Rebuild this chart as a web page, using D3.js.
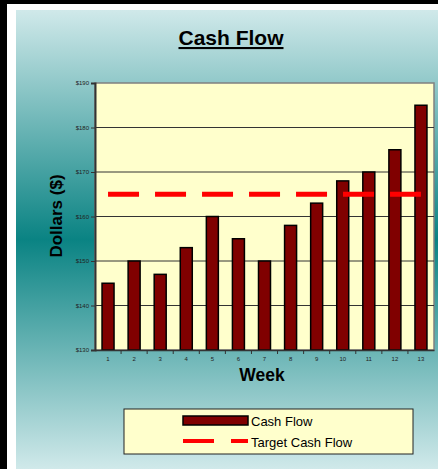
<!DOCTYPE html>
<html>
<head>
<meta charset="utf-8">
<script src="https://cdn.jsdelivr.net/npm/d3@7"></script>
<style>
  body { margin: 0; background: #000; }
  svg { display: block; font-family: Arial, "Liberation Sans", sans-serif; }
</style>
</head>
<body>
<div id="chart"></div>
<script>
const weeks = ["1","2","3","4","5","6","7","8","9","10","11","12","13"];
const cashFlow = [145, 150, 147, 153, 160, 155, 150, 158, 163, 168, 170, 175, 185];
const targetCashFlow = [165, 165, 165, 165, 165, 165, 165, 165, 165, 165, 165, 165, 165];
const yTicks = [130, 140, 150, 160, 170, 180, 190];

const width = 438, height = 469;
const margin = { top: 83, right: 4, bottom: 119, left: 95 };

const svg = d3.select("#chart")
  .append("svg")
  .attr("width", width)
  .attr("height", height);

// background: black frame, white strip, teal gradient panel
svg.append("rect").attr("width", width).attr("height", height).attr("fill", "#000");
svg.append("rect").attr("x", 7).attr("y", 4).attr("width", width - 7).attr("height", height - 4).attr("fill", "#fff");

const defs = svg.append("defs");
const grad = defs.append("linearGradient")
  .attr("id", "bg").attr("x1", 0).attr("y1", 0).attr("x2", 0).attr("y2", 1);
grad.append("stop").attr("offset", "0%").attr("stop-color", "#d0e9ea");
grad.append("stop").attr("offset", "50%").attr("stop-color", "#0a8383");
grad.append("stop").attr("offset", "100%").attr("stop-color", "#d0e9ea");

svg.append("rect").attr("x", 16).attr("y", 10).attr("width", width - 16).attr("height", height - 10)
  .attr("fill", "url(#bg)");

const x = d3.scaleBand()
  .domain(weeks)
  .range([margin.left, width - margin.right])
  .paddingInner(0.54)
  .paddingOuter(0.27);

const y = d3.scaleLinear()
  .domain([130, 190])
  .range([height - margin.bottom, margin.top]);

// plot area
svg.append("rect")
  .attr("x", margin.left).attr("y", margin.top)
  .attr("width", width - margin.left - margin.right)
  .attr("height", height - margin.top - margin.bottom)
  .attr("fill", "#ffffcc")
  .attr("stroke", "#808080")
  .attr("stroke-width", 1.5);

// gridlines
svg.append("g")
  .selectAll("line")
  .data(yTicks.slice(1, -1))
  .enter()
  .append("line")
  .attr("x1", margin.left).attr("x2", width - margin.right)
  .attr("y1", d => y(d)).attr("y2", d => y(d))
  .attr("stroke", "#333").attr("stroke-width", 1);

// bars
svg.append("g")
  .selectAll("rect")
  .data(cashFlow)
  .enter()
  .append("rect")
  .attr("x", (d, i) => x(weeks[i]))
  .attr("y", d => y(d))
  .attr("width", x.bandwidth())
  .attr("height", d => y(130) - y(d))
  .attr("fill", "#800000")
  .attr("stroke", "#000")
  .attr("stroke-width", 1.5);

// target line
const line = d3.line()
  .x((d, i) => x(weeks[i]) + x.bandwidth() / 2)
  .y(d => y(d));

svg.append("path")
  .datum(targetCashFlow)
  .attr("d", line)
  .attr("fill", "none")
  .attr("stroke", "#ff0000")
  .attr("stroke-width", 5)
  .attr("stroke-dasharray", "31,16");

// y axis
const yAxis = svg.append("g")
  .attr("transform", `translate(${margin.left},0)`)
  .call(d3.axisLeft(y).tickValues(yTicks).tickFormat(d => "$" + d).tickSize(4).tickPadding(2));
yAxis.select(".domain").attr("stroke", "#333").attr("stroke-width", 2);
yAxis.selectAll(".tick line").attr("stroke", "#333");
yAxis.selectAll("text").attr("font-size", 6).attr("fill", "#222");

// x axis
const xAxis = svg.append("g")
  .attr("transform", `translate(0,${height - margin.bottom})`)
  .call(d3.axisBottom(x).tickSize(0).tickPadding(7));
xAxis.select(".domain").attr("stroke", "#333").attr("stroke-width", 1.5);
xAxis.selectAll("text").attr("font-size", 6).attr("fill", "#222");
xAxis.selectAll(".sep")
  .data(weeks.slice(1))
  .enter()
  .append("line")
  .attr("x1", d => x(d) - x.step() * x.paddingInner() / 2)
  .attr("x2", d => x(d) - x.step() * x.paddingInner() / 2)
  .attr("y1", 0).attr("y2", 4)
  .attr("stroke", "#333");

// title
svg.append("text")
  .attr("x", 231).attr("y", 45)
  .attr("text-anchor", "middle")
  .attr("font-size", 21).attr("font-weight", "bold")
  .attr("text-decoration", "underline")
  .text("Cash Flow");

// axis labels
svg.append("text")
  .attr("x", 262).attr("y", 381)
  .attr("text-anchor", "middle")
  .attr("font-size", 17.5).attr("font-weight", "bold")
  .text("Week");

svg.append("text")
  .attr("transform", "rotate(-90)")
  .attr("x", -216).attr("y", 62)
  .attr("text-anchor", "middle")
  .attr("font-size", 17).attr("font-weight", "bold")
  .text("Dollars ($)");

// Legend
const legend = svg.append("g").attr("transform", "translate(124,409)");
legend.append("rect")
  .attr("width", 289).attr("height", 45)
  .attr("fill", "#ffffcc").attr("stroke", "#222").attr("stroke-width", 1);

legend.append("rect")
  .attr("x", 59).attr("y", 7).attr("width", 65).attr("height", 9)
  .attr("fill", "#800000").attr("stroke", "#000").attr("stroke-width", 1.5);
legend.append("text")
  .attr("x", 127).attr("y", 17)
  .attr("font-size", 13)
  .text("Cash Flow");

legend.append("line")
  .attr("x1", 59).attr("x2", 124).attr("y1", 32).attr("y2", 32)
  .attr("stroke", "#ff0000").attr("stroke-width", 4)
  .attr("stroke-dasharray", "31,17");
legend.append("text")
  .attr("x", 127).attr("y", 38)
  .attr("font-size", 13)
  .text("Target Cash Flow");
</script>
</body>
</html>
